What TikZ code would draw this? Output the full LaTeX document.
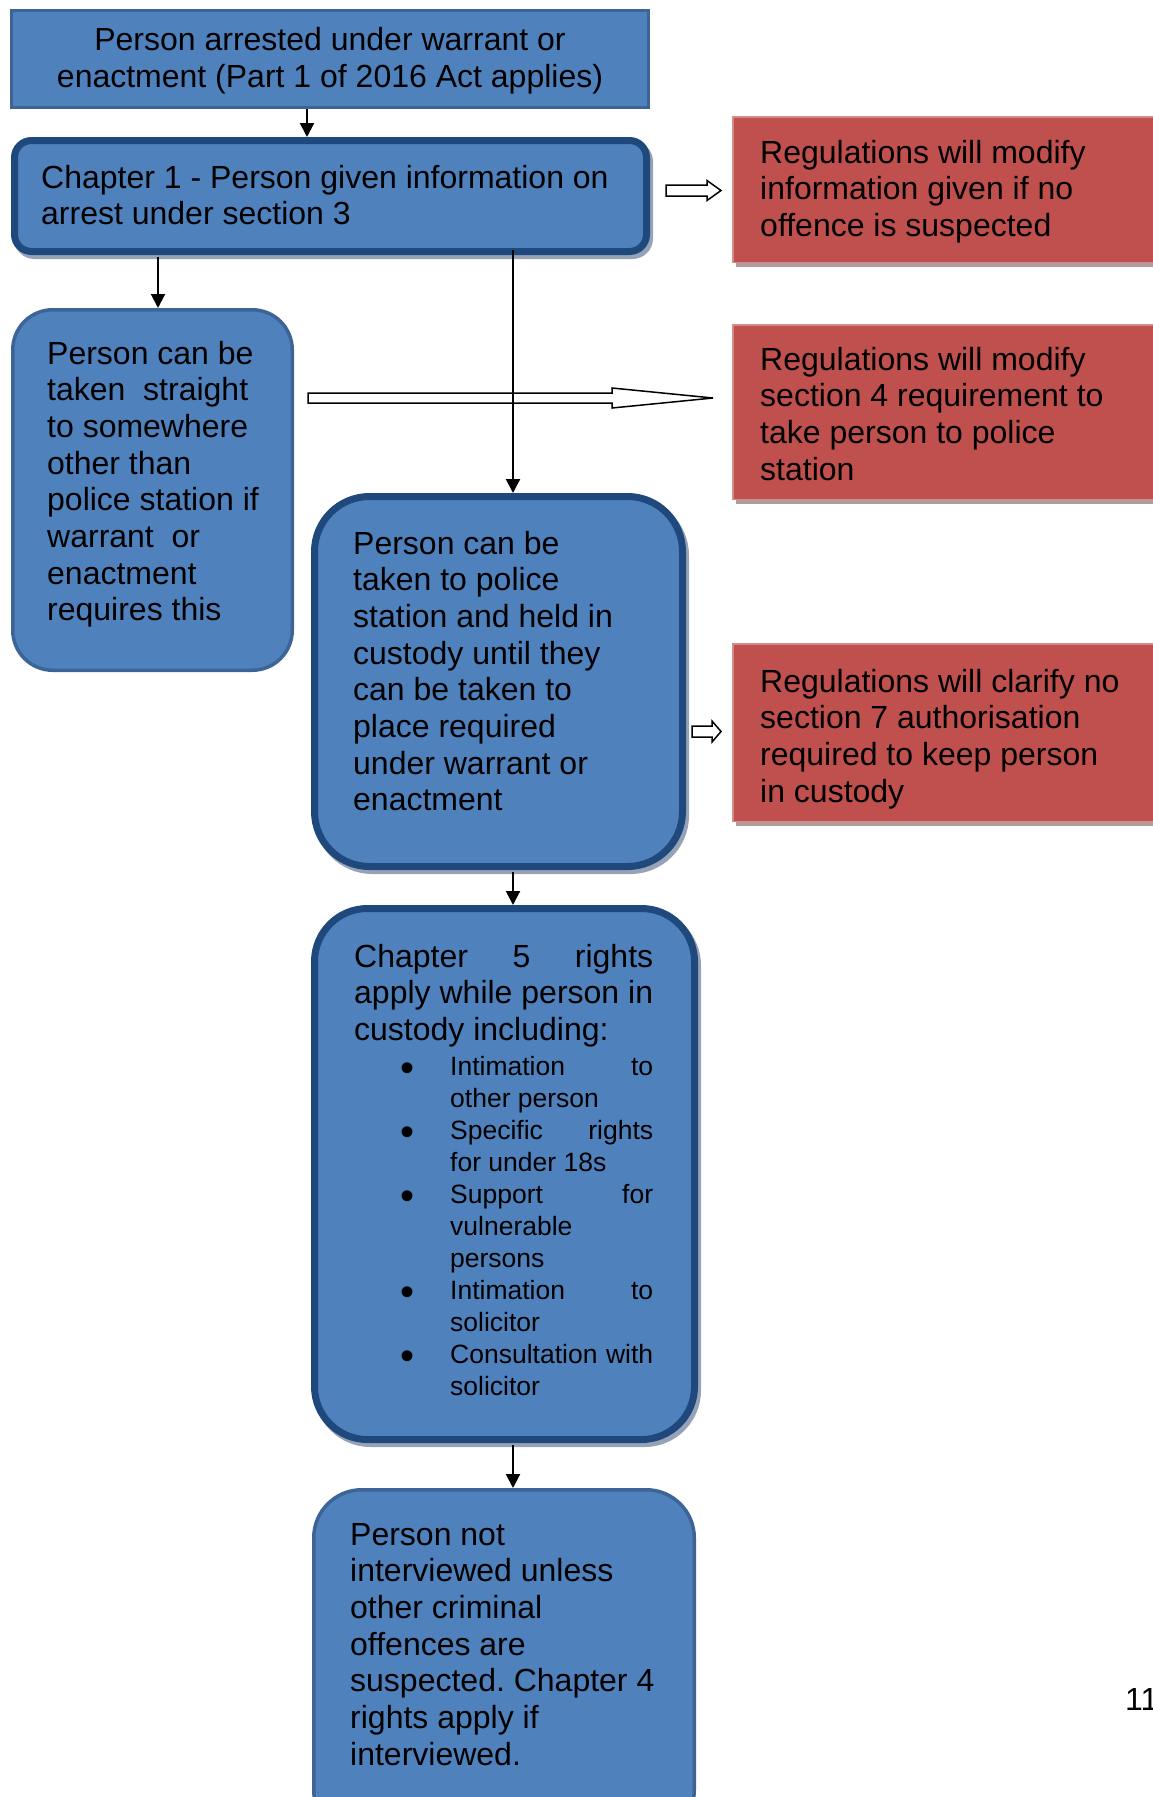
\documentclass[tikz,border=0pt]{standalone}
\usepackage{fontspec}
\setmainfont{Liberation Sans}
\usetikzlibrary{arrows.meta,calc,shadows}
\definecolor{bfill}{RGB}{79,129,189}
\definecolor{bdark}{RGB}{31,73,125}
\definecolor{bmid}{RGB}{60,100,150}
\definecolor{rfill}{RGB}{192,80,77}
\definecolor{rline}{RGB}{210,140,138}
\definecolor{bshadow}{RGB}{150,163,182}
\definecolor{rshadow}{RGB}{178,155,155}
\newcommand\mainsize{\fontsize{32}{36.7}\selectfont\frenchspacing}
\newcommand\smallsize{\fontsize{26.5}{32}\selectfont\frenchspacing}
\newcommand\bigbul{\hspace*{46.5pt}\makebox[49.5pt][l]{\raisebox{-6.4pt}{\fontsize{40}{32}\selectfont •}}}
\newcommand\hollowarr[5]{% start, end, shaft half, head half, head length
  \draw[hollow] ($(#1)+(0,-#3)$) -- ($(#2)+(-#5,-#3)$) -- ($(#2)+(-#5,-#4)$) -- (#2)
    -- ($(#2)+(-#5,#4)$) -- ($(#2)+(-#5,#3)$) -- ($(#1)+(0,#3)$) -- cycle;}
\tikzset{
  plain box/.style={draw=bmid, fill=bfill, line width=3.5pt, inner sep=0pt},
  dark box/.style={draw=bdark, fill=bfill, line width=7pt, inner sep=0pt,
    drop shadow={opacity=1, fill=bshadow, draw=bshadow, shadow xshift=3pt, shadow yshift=-4pt}},
  red box/.style={draw=rline, fill=rfill, line width=1.5pt, inner sep=0pt,
    minimum width=436.5pt,
    drop shadow={opacity=1, fill=rshadow, draw=rshadow, shadow xshift=4pt, shadow yshift=-4pt}},
  txt/.style={inner sep=0pt, anchor=base west, font=\mainsize},
  arr/.style={line width=2pt, -{Triangle[length=14pt,width=14pt]}},
  hollow/.style={draw=black, fill=white, line width=1.5pt, line join=miter},
}
\begin{document}
\begin{tikzpicture}[x=1pt,y=-1pt]
\fill[white] (0,0) rectangle (1153,1797);
\useasboundingbox (0,0) rectangle (1153,1797);

% boxes
\node[draw=bmid, fill=bfill, line width=3pt, inner sep=0pt, minimum width=637pt, minimum height=97pt] (top) at (330,59) {};
\node[dark box, rounded corners=17pt, minimum width=632pt, minimum height=111pt] (ch1) at (330.5,196) {};
\node[plain box, rounded corners=40pt, minimum width=279.5pt, minimum height=360.5pt] (left) at (152.5,490) {};
\node[dark box, rounded corners=55pt, minimum width=368pt, minimum height=370pt] (mid) at (498.5,681.5) {};
\node[dark box, rounded corners=53pt, minimum width=380pt, minimum height=531pt] (ch5) at (504.5,1174) {};
\node[plain box, rounded corners=48pt, minimum width=380.5pt, minimum height=348.5pt] (last) at (504,1664) {};
\node[red box, minimum height=145.5pt] (red1) at (951,189.5) {};
\node[red box, minimum height=174.5pt] (red2) at (951,412) {};
\node[red box, minimum height=177.5pt] (red3) at (951,732.5) {};

% texts
\node[txt, anchor=base] (ttop) at (330,50.5) {\parbox[t]{640pt}{\centering Person arrested under warrant or\\enactment (Part 1 of 2016 Act applies)}};
\node[txt] (tch1) at (41,188) {\parbox[t]{620pt}{\raggedright Chapter 1 - Person given information on\\arrest under section 3}};
\node[txt] (tred1) at (760,163) {\parbox[t]{420pt}{\raggedright Regulations will modify\\information given if no\\offence is suspected}};
\node[txt] (tred2) at (760,370) {\parbox[t]{420pt}{\raggedright Regulations will modify\\section 4 requirement to\\take person to police\\station}};
\node[txt] (tred3) at (760,692) {\parbox[t]{420pt}{\raggedright Regulations will clarify no\\section 7 authorisation\\required to keep person\\in custody}};
\node[txt] (tleft) at (47,364) {\parbox[t]{300pt}{\raggedright Person can be\\taken\ \ straight\\to somewhere\\other than\\police station if\\warrant\ \ or\\enactment\\requires this}};
\node[txt] (tmid) at (353,554) {\parbox[t]{340pt}{\raggedright Person can be\\taken to police\\station and held in\\custody until they\\can be taken to\\place required\\under warrant or\\enactment}};
\node[txt] (tch5) at (354,967) {\parbox[t]{300pt}{\mainsize\raggedright
\makebox[299pt][s]{Chapter 5 rights}\\
\makebox[299pt][s]{apply while person in}\\
custody including:\par
\smallsize\vspace{3pt}
\bigbul\makebox[203pt][s]{Intimation to}\\
\hspace*{96pt}other person\\
\bigbul\makebox[203pt][s]{Specific rights}\\
\hspace*{96pt}for under 18s\\
\bigbul\makebox[203pt][s]{Support for}\\
\hspace*{96pt}vulnerable\\
\hspace*{96pt}persons\\
\bigbul\makebox[203pt][s]{Intimation to}\\
\hspace*{96pt}solicitor\\
\bigbul\makebox[203pt][s]{Consultation with}\\
\hspace*{96pt}solicitor}};
\node[txt] (tlast) at (350,1545) {\parbox[t]{340pt}{\raggedright Person not\\interviewed unless\\other criminal\\offences are\\suspected. Chapter 4\\rights apply if\\interviewed.}};
\node[txt] (page) at (1125,1710) {11};

% hollow arrows
\coordinate (h1s) at (666,190.5);
\coordinate (h1e) at (721,190.5);
\hollowarr{h1s}{h1e}{5.5}{10}{14}
\coordinate (h2s) at (308,398);
\coordinate (h2e) at (713,398);
\hollowarr{h2s}{h2e}{5}{10}{101}
\coordinate (h3s) at (692,731.5);
\coordinate (h3e) at (721,731.5);
\hollowarr{h3s}{h3e}{5.5}{10.5}{9}

% connectors
\coordinate (c1) at (307,0);
\coordinate (c2) at (158,0);
\coordinate (sp) at (513,0);
\draw[arr] (top.south -| c1) -- (ch1.north -| c1);
\draw[arr] ($(ch1.south -| c2)+(0,2)$) -- (left.north -| c2);
\draw[arr] ($(ch1.south -| sp)+(0,-5)$) -- (mid.north -| sp);
\draw[arr] ($(mid.south -| sp)+(0,2)$) -- (ch5.north -| sp);
\draw[arr] ($(ch5.south -| sp)+(0,2)$) -- (last.north -| sp);
\end{tikzpicture}
\end{document}
